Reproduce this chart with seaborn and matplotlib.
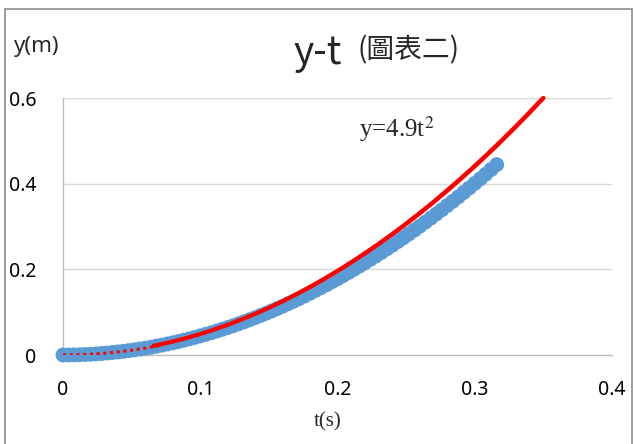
import numpy as np
import pandas as pd
import matplotlib
matplotlib.use('Agg')
import matplotlib.pyplot as plt
import seaborn as sns
from matplotlib.patches import Rectangle

# ---- data ----
t_measured = [0.000, 0.004, 0.008, 0.012, 0.016, 0.020, 0.024, 0.028, 0.032, 0.036,
              0.040, 0.044, 0.048, 0.052, 0.056, 0.060, 0.064, 0.068, 0.072, 0.076,
              0.080, 0.084, 0.088, 0.092, 0.096, 0.100, 0.104, 0.108, 0.112, 0.116,
              0.120, 0.124, 0.128, 0.132, 0.136, 0.140, 0.144, 0.148, 0.152, 0.156,
              0.160, 0.164, 0.168, 0.172, 0.176, 0.180, 0.184, 0.188, 0.192, 0.196,
              0.200, 0.204, 0.208, 0.212, 0.216, 0.220, 0.224, 0.228, 0.232, 0.236,
              0.240, 0.244, 0.248, 0.252, 0.256, 0.260, 0.264, 0.268, 0.272, 0.276,
              0.280, 0.284, 0.288, 0.292, 0.296, 0.300, 0.304, 0.308, 0.312, 0.316]
y_measured = [0.0000, 0.0001, 0.0003, 0.0006, 0.0011, 0.0018, 0.0026, 0.0035, 0.0046, 0.0058,
              0.0071, 0.0086, 0.0103, 0.0120, 0.0140, 0.0160, 0.0182, 0.0206, 0.0231, 0.0257,
              0.0285, 0.0314, 0.0345, 0.0377, 0.0410, 0.0445, 0.0481, 0.0519, 0.0558, 0.0599,
              0.0641, 0.0684, 0.0729, 0.0775, 0.0823, 0.0872, 0.0923, 0.0975, 0.1028, 0.1083,
              0.1139, 0.1197, 0.1256, 0.1316, 0.1378, 0.1442, 0.1507, 0.1573, 0.1640, 0.1710,
              0.1780, 0.1852, 0.1925, 0.2000, 0.2076, 0.2154, 0.2233, 0.2313, 0.2395, 0.2478,
              0.2563, 0.2649, 0.2737, 0.2826, 0.2916, 0.3008, 0.3101, 0.3196, 0.3292, 0.3390,
              0.3489, 0.3589, 0.3691, 0.3794, 0.3899, 0.4005, 0.4113, 0.4221, 0.4332, 0.4444]

# theory curve y = 4.9 t^2
t_theory = [0.00, 0.01, 0.02, 0.03, 0.04, 0.05, 0.06, 0.07, 0.08, 0.09,
            0.10, 0.11, 0.12, 0.13, 0.14, 0.15, 0.16, 0.17, 0.18, 0.19,
            0.20, 0.21, 0.22, 0.23, 0.24, 0.25, 0.26, 0.27, 0.28, 0.29,
            0.30, 0.31, 0.32, 0.33, 0.34, 0.35]
y_theory = [0.00000, 0.00049, 0.00196, 0.00441, 0.00784, 0.01225, 0.01764, 0.02401, 0.03136, 0.03969,
            0.04900, 0.05929, 0.07056, 0.08281, 0.09604, 0.11025, 0.12544, 0.14161, 0.15876, 0.17689,
            0.19600, 0.21609, 0.23716, 0.25921, 0.28224, 0.30625, 0.33124, 0.35721, 0.38416, 0.41209,
            0.44100, 0.47089, 0.50176, 0.53361, 0.56644, 0.60025]

# dotted trendline visible at the start
t_trend = [0.000, 0.010, 0.020, 0.030, 0.040, 0.050, 0.060, 0.070]
y_trend = [0.0000, 0.0004, 0.0018, 0.0040, 0.0071, 0.0111, 0.0160, 0.0218]

x_ticks = [0, 0.1, 0.2, 0.3, 0.4]
x_tick_labels = ['0', '0.1', '0.2', '0.3', '0.4']
y_ticks = [0, 0.2, 0.4, 0.6]
y_tick_labels = ['0', '0.2', '0.4', '0.6']

df_meas = pd.DataFrame({'t': t_measured, 'y': y_measured})
df_theory = pd.DataFrame({'t': t_theory, 'y': y_theory})
df_trend = pd.DataFrame({'t': t_trend, 'y': y_trend})

sns.set_style('white')
plt.rcParams['font.family'] = ['Noto Sans', 'DejaVu Sans']

fig = plt.figure(figsize=(6.34, 4.44), dpi=100)
ax = fig.add_axes([63 / 634, 89 / 444, 549 / 634, 257 / 444])

# chart frame
fig.patches.append(Rectangle((5 / 634, -0.05), 627 / 634, (444 - 9) / 444 + 0.05,
                             transform=fig.transFigure, fill=False,
                             edgecolor='#8c8c8c', linewidth=1.2))

# theory line: under the markers near the origin, on top further along
sns.lineplot(data=df_theory, x='t', y='y', ax=ax, color='#ff0000', linewidth=3,
             sort=False, zorder=2)
sns.scatterplot(data=df_meas, x='t', y='y', ax=ax, color='#5b9bd5', s=115,
                edgecolor='none', zorder=3, clip_on=False)
sns.lineplot(data=df_theory, x='t', y='y', ax=ax, color='#ff0000', linewidth=3,
             sort=False, zorder=4)
top_line = ax.lines[-1]
clip_box = Rectangle((0.065, -0.1), 1, 1, transform=ax.transData, visible=False)
ax.add_patch(clip_box)
top_line.set_clip_path(clip_box)
sns.lineplot(data=df_trend, x='t', y='y', ax=ax, color='#ff0000', linewidth=2.2,
             linestyle=(0, (1, 1.2)), sort=False, zorder=5)

ax.set_xlim(0, 0.4)
ax.set_ylim(0, 0.6)
ax.set_xticks(x_ticks)
ax.set_xticklabels(x_tick_labels)
ax.set_yticks(y_ticks)
ax.set_yticklabels(y_tick_labels)
ax.tick_params(axis='both', length=0, labelsize=14, colors='black')
ax.tick_params(axis='x', pad=18)
ax.tick_params(axis='y', pad=19)
ax.set_xlabel('')
ax.set_ylabel('')

ax.grid(axis='y', color='#d9d9d9', linewidth=1)
ax.grid(axis='x', visible=False)
for side in ['top', 'right']:
    ax.spines[side].set_visible(False)
for side in ['left', 'bottom']:
    ax.spines[side].set_color('#bfbfbf')
    ax.spines[side].set_linewidth(1)
ax.set_axisbelow(True)

# texts
fig.text(328 / 634, 1 - 422 / 444, 't(s)', ha='center', va='center',
         family='Liberation Serif', fontsize=15)
fig.text(14 / 634, 1 - 46 / 444, 'y(m)', ha='left', va='center', fontsize=16)
fig.text(294 / 634, 1 - 53 / 444, 'y-t', ha='left', va='center', fontsize=28,
         family=['Noto Sans CJK TC', 'DejaVu Sans'], fontweight='light')
fig.text(357 / 634, 1 - 50 / 444, '(圖表二)', ha='left', va='center', fontsize=20,
         family=['Noto Sans CJK TC', 'DejaVu Sans'], fontweight='light')
ax.text(0.216, 0.527, 'y=4.9t$^2$', ha='left', va='center', fontsize=18,
        family='Liberation Serif', math_fontfamily='stix')

fig.savefig('out.png', dpi=100)
